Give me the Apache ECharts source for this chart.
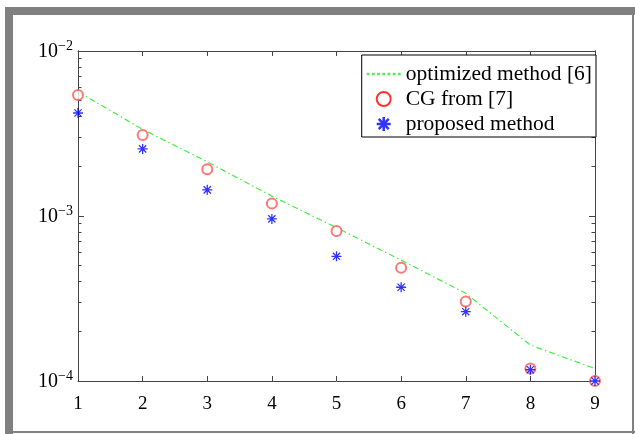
<!DOCTYPE html>
<html>
<head>
<meta charset="UTF-8">
<title>optimized vs CG vs proposed</title>
<script src="https://cdn.jsdelivr.net/npm/echarts@6/dist/echarts.min.js"></script>
<style type="text/css">
body{
	padding:0;
	margin:0;
	background:#fff;
}
#my_container{
	width:635px;
	height:434px;
}
</style>
</head>
<body>
<div id="my_container"></div>
<script type="text/javascript">
// data
var xs = [1, 2, 3, 4, 5, 6, 7, 8, 9];
var optimized = [5.67e-3, 3.35e-3, 2.13e-3, 1.32e-3, 8.5e-4, 5.4e-4, 3.4e-4, 1.65e-4, 1.19e-4];
var cg = [5.41e-3, 3.10e-3, 1.92e-3, 1.19e-3, 8.1e-4, 4.86e-4, 3.03e-4, 1.19e-4, 1.0e-4];
var proposed = [4.21e-3, 2.55e-3, 1.44e-3, 9.6e-4, 5.7e-4, 3.7e-4, 2.63e-4, 1.17e-4, 1.0e-4];

var yMajor = [1e-4, 1e-3, 1e-2];
var yMinor = [2e-4, 3e-4, 4e-4, 5e-4, 6e-4, 7e-4, 8e-4, 9e-4,
              2e-3, 3e-3, 4e-3, 5e-3, 6e-3, 7e-3, 8e-3, 9e-3];
var names = ['optimized method [6]', 'CG from [7]', 'proposed method'];

function pairs(v) {
	var out = [];
	for (var i = 0; i < xs.length; i++) out.push([xs[i], v[i]]);
	return out;
}

var serif = 'Liberation Serif';
var axisCol = '#444';
var star = 'path://M0,-5L0,5M-5,0L5,0M-3.6,-3.6L3.6,3.6M-3.6,3.6L3.6,-3.6';
// dotted line for the legend icon (7 little dashes)
var dots = 'path://M0,0h3v2.5h-3zM5.4,0h3v2.5h-3zM10.8,0h3v2.5h-3zM16.2,0h3v2.5h-3zM21.6,0h3v2.5h-3zM27,0h3v2.5h-3zM32.4,0h3v2.5h-3z';

function yAx(pos, ticks, len, labels) {
	return {
		type: 'log', logBase: 10, min: 1e-4, max: 1e-2, position: pos,
		axisLine: {show: true, lineStyle: {color: axisCol, width: 1}},
		axisTick: {show: true, inside: true, length: len, customValues: ticks,
			lineStyle: {color: axisCol}},
		splitLine: {show: false},
		axisLabel: labels ? {
			show: true, margin: 5, customValues: yMajor,
			formatter: function (v) {
				var e = Math.round(Math.log(v) / Math.LN10);
				return '{b|10}{s|\u2212' + Math.abs(e) + '}';
			},
			rich: {
				b: {fontFamily: serif, fontSize: 20, color: '#000', padding: [2, 0, 0, 0]},
				s: {fontFamily: serif, fontSize: 14, color: '#000', padding: [0, 0, 9, 0]}
			}
		} : {show: false}
	};
}

var myChart = echarts.init(document.getElementById('my_container'));

var option = {
	backgroundColor: '#fff',
	animation: false,
	graphic: [
		{type: 'rect', shape: {x: 5, y: 7, width: 630, height: 8}, style: {fill: '#808080'}},
		{type: 'rect', shape: {x: 5, y: 7, width: 8, height: 427}, style: {fill: '#808080'}},
		{type: 'rect', shape: {x: 632, y: 7, width: 2, height: 427}, style: {fill: '#808080'}},
		{type: 'rect', shape: {x: 5, y: 431, width: 630, height: 2}, style: {fill: '#808080'}}
	],
	grid: {left: 78, right: 40, top: 51, bottom: 53, containLabel: false},
	legend: {
		orient: 'vertical',
		right: 39,
		top: 55,
		backgroundColor: '#fff',
		borderColor: '#000',
		borderWidth: 1,
		borderRadius: 0,
		padding: [8, 4, 2, 5],
		itemGap: 3,
		itemWidth: 34,
		itemHeight: 14,
		textStyle: {fontFamily: serif, fontSize: 21.5, color: '#000', lineHeight: 21},
		data: [
			{name: names[0], icon: dots, itemStyle: {color: '#55ee55', borderWidth: 0}},
			{name: names[1], icon: 'emptyCircle', itemStyle: {color: '#ff0000', borderColor: '#ff0000', borderWidth: 3}},
			{name: names[2], itemStyle: {color: '#0000ff', borderColor: '#0000ff', borderWidth: 2.5}}
		]
	},
	xAxis: [
		{
			type: 'value', min: 1, max: 9, interval: 1, position: 'bottom',
			axisLine: {show: true, lineStyle: {color: axisCol, width: 1}},
			axisTick: {show: true, inside: true, length: 5, lineStyle: {color: axisCol}},
			splitLine: {show: false},
			axisLabel: {margin: 14, fontFamily: serif, fontSize: 19, color: '#000'}
		},
		{
			type: 'value', min: 1, max: 9, interval: 1, position: 'top',
			axisLine: {show: true, lineStyle: {color: axisCol, width: 1}},
			axisTick: {show: true, inside: true, length: 5, lineStyle: {color: axisCol}},
			splitLine: {show: false},
			axisLabel: {show: false}
		}
	],
	yAxis: [
		yAx('left', yMajor, 6, true),
		yAx('right', yMajor, 6, false),
		yAx('left', yMinor, 3.5, false),
		yAx('right', yMinor, 3.5, false)
	],
	series: [
		{
			name: names[0], type: 'line', xAxisIndex: 0, yAxisIndex: 0,
			data: pairs(optimized), symbol: 'none', smooth: false,
			lineStyle: {color: '#44ee44', width: 1.2, type: [6, 3, 1.5, 3]},
			itemStyle: {color: '#44ee44'}
		},
		{
			name: names[1], type: 'scatter', xAxisIndex: 0, yAxisIndex: 0,
			data: pairs(cg), symbol: 'emptyCircle', symbolSize: 10,
			itemStyle: {color: '#ff5555', borderColor: '#ff5555', borderWidth: 1.2},
			z: 3
		},
		{
			name: names[2], type: 'scatter', xAxisIndex: 0, yAxisIndex: 0,
			data: pairs(proposed), symbol: star, symbolSize: 10,
			itemStyle: {color: '#0000ff', borderColor: '#0000ff', borderWidth: 1.3},
			z: 4
		}
	]
};

myChart.setOption(option);
</script>
</body>
</html>
